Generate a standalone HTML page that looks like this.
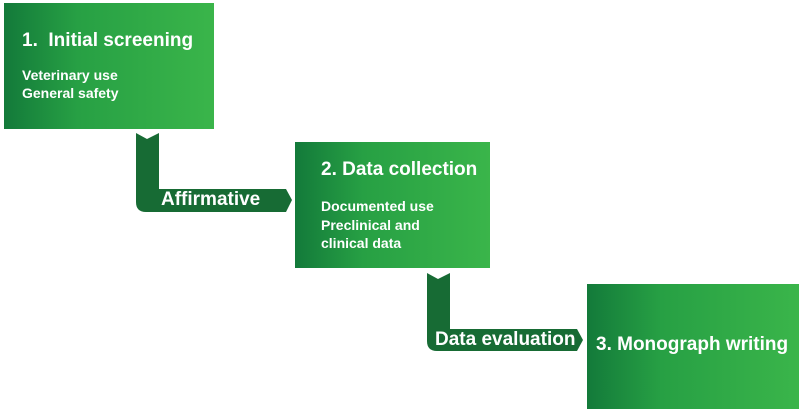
<!DOCTYPE html>
<html><head><style>
body{margin:0;width:800px;height:414px;background:#fff;position:relative;overflow:hidden;font-family:"Liberation Sans",Arial,sans-serif;font-weight:bold;color:#fff}
.box{position:absolute;background:linear-gradient(90deg,#137a3a 0%,#27a044 35%,#3ab54a 100%)}
.t{position:absolute;white-space:nowrap}
</style></head><body>
<div class="box" style="left:4px;top:3px;width:210px;height:126px"></div>
<div class="box" style="left:295px;top:142px;width:195px;height:126px"></div>
<div class="box" style="left:587px;top:284px;width:212px;height:125px"></div>
<svg width="800" height="414" style="position:absolute;left:0;top:0">
<path d="M136 133 L147 139 L159 133 L159 189 L286 189 L292 200 L286 212 L146 212 Q136 212 136 202 Z" fill="#176b34"/>
<path d="M427 273 L438 279 L450 273 L450 329 L577 329 L583 340 L577 351 L437 351 Q427 351 427 341 Z" fill="#176b34"/>
</svg>
<div class="t" style="left:22px;top:30px;font-size:19px">1.&nbsp; Initial screening</div>
<div class="t" style="left:22px;top:66px;font-size:14px;line-height:18px">Veterinary use<br>General safety</div>
<div class="t" style="left:321px;top:159px;font-size:19px">2. Data collection</div>
<div class="t" style="left:321px;top:197px;font-size:14px;line-height:18.5px">Documented use<br>Preclinical and<br>clinical data</div>
<div class="t" style="left:596px;top:334px;font-size:19px">3. Monograph writing</div>
<div class="t" style="left:161px;top:189px;font-size:19px">Affirmative</div>
<div class="t" style="left:435px;top:329px;font-size:19px">Data evaluation</div>
</body></html>
